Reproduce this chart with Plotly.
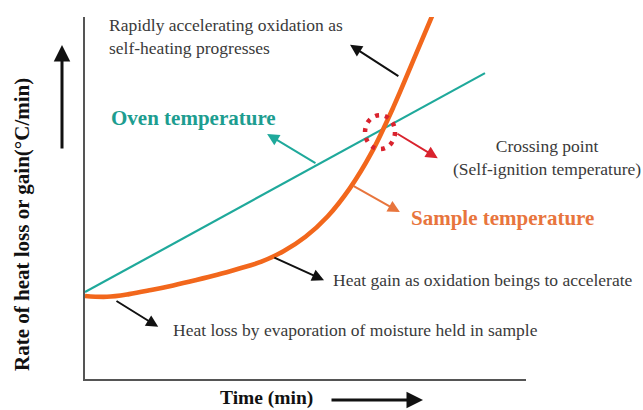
import plotly.graph_objects as go

# ---- data (schematic) ----
oven_time = [0.0, 90.7]
oven_rate = [24.0, 84.5]

sample_time = [0, 5, 10, 15, 20, 25, 30, 35, 40, 45, 50, 55, 60, 65, 70, 75, 80]
sample_rate = [22.93, 22.71, 23.45, 24.59, 25.86, 27.27, 28.78, 30.52, 32.4, 35.3, 39.3,
               44.9, 52.6, 62.6, 75.3, 89.6, 104.0]

TEAL = "#1fa99b"
TEAL_TXT = "#1d9d90"
ORANGE = "#f2671c"
ORANGE_TXT = "#e8753d"
RED = "#d9232e"
TXT = "#3a3a3a"
AX = "#555555"
SERIF = "Liberation Serif, Times New Roman, serif"

fig = go.Figure()
fig.add_trace(go.Scatter(x=oven_time, y=oven_rate, mode="lines",
                         line=dict(color=TEAL, width=2.2), hoverinfo="skip"))
fig.add_trace(go.Scatter(x=sample_time, y=sample_rate, mode="lines",
                         line=dict(color=ORANGE, width=4.6, shape="spline", smoothing=1.0),
                         hoverinfo="skip"))

# crossing-point dotted circle
fig.add_shape(type="circle", xref="x", yref="y", x0=63.5, x1=70.3, y0=63.5, y1=72.9,
              line=dict(color=RED, width=4.5, dash="4px,6px"))

annotations = []

def arrow(head, tail, color, width=2, size=1.2):
    annotations.append(dict(x=head[0], y=head[1], ax=tail[0], ay=tail[1],
                            xref="x", yref="y", axref="x", ayref="y",
                            text="", showarrow=True, arrowhead=2, arrowsize=size,
                            arrowwidth=width, arrowcolor=color, standoff=0))

arrow((60.1, 92.3), (71.4, 83.4), "#111111")
arrow((41.3, 67.7), (52.6, 59.4), TEAL)
arrow((80.0, 61.0), (70.5, 68.0), RED)
arrow((71.4, 46.1), (60.5, 53.6), ORANGE_TXT)
arrow((54.2, 27.3), (42.6, 33.7), "#111111")
arrow((16.6, 14.4), (6.8, 21.8), "#111111")

def label(x, y, text, size=17.5, color=TXT, bold=False, align="left"):
    t = f"<b>{text}</b>" if bold else text
    annotations.append(dict(x=x, y=y, xref="x", yref="y", text=t, showarrow=False,
                            xanchor="left", yanchor="middle", align=align,
                            font=dict(family=SERIF, size=size, color=color)))

label(5.0, 94.5, "Rapidly accelerating oxidation as<br>self-heating progresses")
label(5.5, 72.1, "Oven temperature", size=21, color=TEAL_TXT, bold=True)
label(83.0, 61.3, "Crossing point<br>(Self-ignition temperature)", align="center")
label(73.5, 44.5, "Sample temperature", size=21, color=ORANGE_TXT, bold=True)
label(55.8, 27.3, "Heat gain as oxidation beings to accelerate")
label(19.5, 13.5, "Heat loss by evaporation of moisture held in sample")

# axis titles and direction arrows (paper coords)
annotations.append(dict(x=(266 - 85) / 441, y=(379 - 398) / 362, xref="paper", yref="paper",
                        text="<b>Time (min)</b>", showarrow=False, xanchor="center", yanchor="middle",
                        font=dict(family=SERIF, size=19.5, color="#111111")))
annotations.append(dict(x=(22 - 85) / 441, y=(379 - 225) / 362, xref="paper", yref="paper",
                        text="<b>Rate of heat loss or gain(°C/min)</b>", textangle=-90,
                        showarrow=False, xanchor="center", yanchor="middle",
                        font=dict(family=SERIF, size=21, color="#111111")))
annotations.append(dict(x=(62 - 85) / 441, y=(379 - 45) / 362, xref="paper", yref="paper",
                        ax=0, ay=105, text="", showarrow=True, arrowhead=2, arrowsize=1.1,
                        arrowwidth=3, arrowcolor="#111111", standoff=0))
annotations.append(dict(x=(423 - 85) / 441, y=(379 - 400) / 362, xref="paper", yref="paper",
                        ax=-93, ay=0, text="", showarrow=True, arrowhead=2, arrowsize=1.1,
                        arrowwidth=3, arrowcolor="#111111", standoff=0))

axis_common = dict(showgrid=False, zeroline=False, showticklabels=False, ticks="",
                   showline=True, linecolor=AX, linewidth=2, fixedrange=True)

fig.update_layout(
    width=643, height=410,
    margin=dict(l=85, r=117, t=17, b=31),
    paper_bgcolor="white", plot_bgcolor="white",
    showlegend=False,
    xaxis=dict(range=[0, 100], **axis_common),
    yaxis=dict(range=[0, 100], **axis_common),
    annotations=annotations,
)

fig.write_html("out.html")
